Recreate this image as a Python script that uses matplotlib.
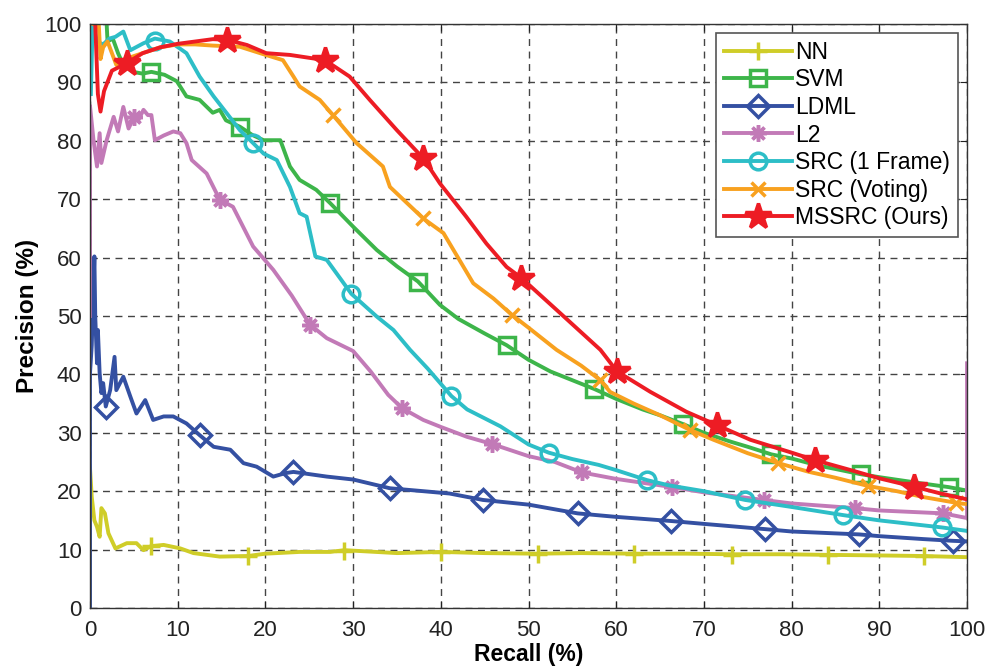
"""
Precision / recall curves for the face identification methods.
"""

import matplotlib
matplotlib.use("Agg")
import matplotlib.pyplot as plt
from matplotlib.lines import Line2D

plt.rcParams['font.family'] = ['Liberation Sans', 'DejaVu Sans']

# ---- curves (recall %, precision %) ----
nn_x = [0, 0, 0.2, 0.5, 0.8, 1.1, 1.3, 1.7, 2.1, 2.9, 4.2, 5.3, 6.1, 7.0, 8.4, 10.3, 11.8,
        14.8, 18.0, 20, 23.9, 27.4, 29, 35, 40, 45, 51, 56, 62, 68, 73, 79, 84, 90, 95, 100]
nn_y = [0, 24, 19, 15, 13.9, 12.2, 17.1, 16.2, 12.8, 10.2, 11.1, 11.1, 9.9, 10.6, 10.8, 10.2, 9.4,
        8.8, 8.9, 9.3, 9.6, 9.6, 9.9, 9.4, 9.6, 9.4, 9.3, 9.4, 9.3, 9.3, 9.2, 9.2, 9.1, 9.0, 8.9, 8.7]
nn_mx = [7.0, 18.0, 29.0, 40.0, 51.1, 62.0, 73.2, 84.1, 95.1]
nn_my = [10.7, 8.9, 9.8, 9.6, 9.2, 9.2, 9.1, 9.0, 8.9]

svm_x = [1.9, 2.0, 2.6, 3.2, 3.8, 4.9, 6.0, 7.0, 8.5, 9.9, 11.0, 12.5, 14.0, 14.8, 15.5, 17.1,
         18.5, 19.8, 21.7, 22.8, 23.9, 25.8, 27.4, 30.0, 32.7, 35, 37.4, 39.9, 42, 45, 47.5,
         50, 52.5, 55, 57.5, 60, 63, 65, 67.6, 70, 73, 75, 77.7, 80, 83, 85, 87.9, 90, 95,
         97.9, 100]
svm_y = [100, 97, 97.5, 95, 93, 91.8, 91.5, 91.8, 91.3, 90.2, 87.6, 87.0, 84.8, 85.3, 83.5, 82.4,
         81.0, 80.1, 80.1, 75.6, 73.3, 71.6, 69.3, 65.3, 61.3, 58.5, 55.9, 51.9, 49.5, 47.0, 45.0,
         42.5, 40.5, 39.0, 37.5, 35.8, 34.0, 33.0, 31.5, 30.0, 28.5, 27.6, 26.3, 25.6, 24.4, 23.8,
         22.9, 22.4, 21.3, 20.7, 20.1]
svm_mx = [7.0, 17.1, 27.4, 37.4, 47.5, 57.5, 67.6, 77.7, 87.9, 97.9]
svm_my = [91.8, 82.4, 69.3, 55.9, 45.0, 37.5, 31.5, 26.3, 22.9, 20.7]

ldml_x = [0, 0, 0.2, 0.5, 0.6, 0.8, 0.9, 1.1, 1.3, 1.5, 1.8, 2.3, 2.8, 3.0, 3.8, 4.6, 5.3, 6.3,
          7.2, 8.4, 9.5, 11.0, 12.5, 14.1, 16.0, 17.5, 19.0, 20.9, 22.3, 23.2, 27.0, 30, 34.2,
          38, 41, 44.8, 50, 55.6, 60, 66.2, 70, 77.0, 80, 87.7, 90, 95, 98.4, 100]
ldml_y = [0, 40.2, 45, 60.2, 49.9, 41.9, 47.6, 40.2, 36.8, 38.5, 34.5, 37.3, 43, 37.3, 39.6, 36.2,
          33.3, 35.6, 32.2, 32.8, 32.8, 31.6, 29.6, 27.6, 27.1, 24.8, 24.2, 22.5, 23.1, 23.3, 22.5,
          22.0, 20.5, 20.0, 19.6, 18.5, 17.7, 16.2, 15.6, 14.9, 14.4, 13.5, 13.1, 12.6, 12.3, 11.8,
          11.5, 11.4]
ldml_mx = [1.8, 12.5, 23.2, 34.2, 44.8, 55.6, 66.2, 77.0, 87.7, 98.4]
ldml_my = [34.5, 29.6, 23.3, 20.5, 18.5, 16.2, 14.9, 13.5, 12.6, 11.5]

l2_x = [0, 0, 0.4, 0.8, 1.1, 1.3, 1.9, 2.7, 3.2, 3.8, 4.4, 5.0, 5.5, 6.1, 6.6, 7.0, 7.4, 8.4,
        9.5, 10.3, 11.0, 11.6, 13.3, 14.8, 16.3, 18.6, 20.9, 23, 25.1, 27.0, 30, 32, 34, 35.6,
        38, 40, 43, 45.8, 50, 53, 56.1, 60, 66.4, 70, 76.8, 80, 87.2, 90, 97.3, 100, 100]
l2_y = [50, 86, 80.1, 75.6, 81.3, 76.2, 80.1, 84.1, 81.6, 85.8, 82.1, 84, 83.5, 85.3, 84.4, 84.4,
        80.1, 80.9, 81.6, 81.3, 79.6, 76.7, 74.4, 69.9, 68.7, 61.9, 57.9, 53.5, 48.5, 46.2, 44.0,
        40.5, 36.5, 34.2, 32.2, 31.0, 29.3, 28.1, 26.0, 25.0, 23.2, 22.1, 20.7, 19.8, 18.5, 17.9,
        17.1, 16.7, 16.2, 15.4, 41.9]
l2_mx = [5.0, 14.8, 25.1, 35.6, 45.8, 56.1, 66.4, 76.8, 87.2, 97.3]
l2_my = [84.0, 69.9, 48.5, 34.2, 28.1, 23.2, 20.7, 18.5, 17.1, 16.2]

src_x = [0.1, 0.3, 0.8, 1.5, 2.2, 2.9, 3.8, 4.6, 6.1, 7.4, 9.1, 11.0, 12.5, 14.1, 15.6, 17.1,
         18.6, 19.8, 21.3, 22.8, 23.9, 24.7, 25.7, 27.0, 29.8, 32.7, 34.6, 36.5, 38.5, 41.2,
         43, 46.8, 50, 52.3, 55, 58, 60, 63.5, 66, 70, 74.7, 80, 85.9, 90, 97.1, 100]
src_y = [88, 100, 97, 96.5, 97.5, 97.8, 98.7, 95.5, 96.7, 97.5, 97.0, 95.0, 91.0, 87.6, 84.7, 81.8,
         79.6, 77.8, 76.7, 72.1, 67.6, 67.0, 60.2, 59.6, 53.8, 49.9, 47.6, 44.2, 41.0, 36.3,
         34.0, 31.1, 28.0, 26.6, 25.5, 24.5, 23.6, 21.9, 21.0, 20.0, 18.5, 17.3, 15.9, 15.0, 13.8,
         13.2]
src_mx = [7.4, 18.6, 29.8, 41.2, 52.3, 63.5, 74.7, 85.9, 97.1]
src_my = [97.0, 79.6, 53.8, 36.3, 26.6, 21.9, 18.5, 15.9, 13.8]

vote_x = [0.4, 1.0, 1.2, 1.5, 2.0, 2.5, 3.0, 4.0, 6.0, 8.0, 10.0, 12.0, 14.0, 17.1, 19.4, 22.0,
          23.2, 23.9, 26.2, 27.7, 30.4, 33.4, 34.2, 38.0, 40.3, 43.7, 46, 48.1, 50, 53.2, 56,
          58.2, 59.3, 62, 65, 68.4, 71.1, 75, 78.5, 82, 85, 88.7, 92, 95, 99.2, 100]
vote_y = [100, 100, 94, 96, 97, 95, 93, 94, 95, 96, 96.5, 96.5, 96.3, 96.1, 95, 93.8,
          91, 89.3, 87, 84.4, 79.6, 75.6, 72.1, 66.7, 64.2, 55.6, 53, 50.2, 48.0, 44.2, 41.5,
          39.0, 37.0, 35.0, 33.0, 30.5, 28.8, 26.5, 24.8, 23.3, 22.3, 20.9, 20.0, 19.0, 17.9, 17.8]
vote_mx = [27.7, 38.0, 48.1, 58.2, 68.4, 78.5, 88.7, 98.7]
vote_my = [84.4, 66.7, 50.2, 39.0, 30.5, 24.8, 20.9, 18.0]

ms_x = [0.6, 0.9, 1.2, 1.6, 2.5, 4.2, 6, 8, 10, 12, 14, 15.6, 17.9, 20.1, 22.8, 26.8,
        29.6, 31.9, 35.0, 38.0, 39.9, 42.9, 45.2, 47.5, 49.2, 53.6, 58.2, 60.1, 63.9, 68.0,
        71.5, 75.3, 80, 82.7, 87, 90, 93.9, 97, 100]
ms_y = [100, 88, 85, 88.5, 92, 93.3, 95, 96, 96.6, 97, 97.4, 97.3, 96.4, 95.0, 94.7, 93.8,
        91.0, 87.0, 81.8, 77.0, 72.7, 67.0, 62.4, 58.4, 56.5, 50.5, 44.2, 40.5, 37.0, 33.6,
        31.3, 28.8, 26.6, 25.3, 23.5, 22.2, 20.8, 19.6, 18.6]
ms_mx = [4.2, 15.6, 26.8, 38.0, 49.2, 60.1, 71.5, 82.7, 93.9]
ms_my = [93.3, 97.3, 93.8, 77.0, 56.5, 40.5, 31.3, 25.3, 20.8]

labels = ['NN', 'SVM', 'LDML', 'L2', 'SRC (1 Frame)', 'SRC (Voting)', 'MSSRC (Ours)']

curves = [
    (nn_x, nn_y, nn_mx, nn_my, '#cfcd28', '+', 13, True),
    (svm_x, svm_y, svm_mx, svm_my, '#3db54a', 's', 11, False),
    (ldml_x, ldml_y, ldml_mx, ldml_my, '#3450a2', 'D', 11, False),
    (l2_x, l2_y, l2_mx, l2_my, '#c27ab7', (8, 2, 0), 12, True),
    (src_x, src_y, src_mx, src_my, '#2dbec7', 'o', 12, False),
    (vote_x, vote_y, vote_mx, vote_my, '#f8a11f', 'x', 10, True),
    (ms_x, ms_y, ms_mx, ms_my, '#ed1c24', '*', 19, True),
]

fig = plt.figure(figsize=(9.9, 6.66), dpi=100)
ax = fig.add_axes([0.0909, 0.0871, 0.8859, 0.8769])

handles = []
for (x, y, mx, my, c, m, ms, filled) in curves:
    ax.plot(x, y, color=c, lw=2.8, solid_joinstyle='round')
    if filled:
        ax.plot(mx, my, ls='none', marker=m, ms=ms, color=c, mec=c, mew=2.5)
    else:
        ax.plot(mx, my, ls='none', marker=m, ms=ms, mfc='none', mec=c, mew=2.5)
    handles.append(Line2D([], [], color=c, lw=2.8, marker=m, ms=ms,
                          mfc=(c if filled else 'none'), mec=c, mew=2.5))

ax.set_xlim(0, 100)
ax.set_ylim(0, 100)
ax.set_xticks(range(0, 101, 10))
ax.set_yticks(range(0, 101, 10))
ax.grid(True, color='#444444', ls=(0, (5, 4)), lw=1.0)
ax.set_axisbelow(True)
ax.tick_params(direction='in', top=True, right=True, length=5, labelsize=16,
               colors='#222222')
ax.tick_params(axis='x', pad=9)
ax.tick_params(axis='y', pad=6)
for sp in ax.spines.values():
    sp.set_color('#333333')
    sp.set_linewidth(1.0)

ax.set_xlabel('Recall (%)', fontsize=16.5, fontweight='bold', labelpad=1)
ax.set_ylabel('Precision (%)', fontsize=17.5, fontweight='bold', labelpad=4)

leg = ax.legend(handles, labels, loc='upper right', bbox_to_anchor=(0.99, 0.985),
                borderaxespad=0, fontsize=16.5, handlelength=2.95, labelspacing=0.2,
                fancybox=False, framealpha=1, edgecolor='#555555', handletextpad=0.15,
                borderpad=0.35)
leg.get_frame().set_linewidth(1.2)

fig.savefig('out.png', dpi=100)
